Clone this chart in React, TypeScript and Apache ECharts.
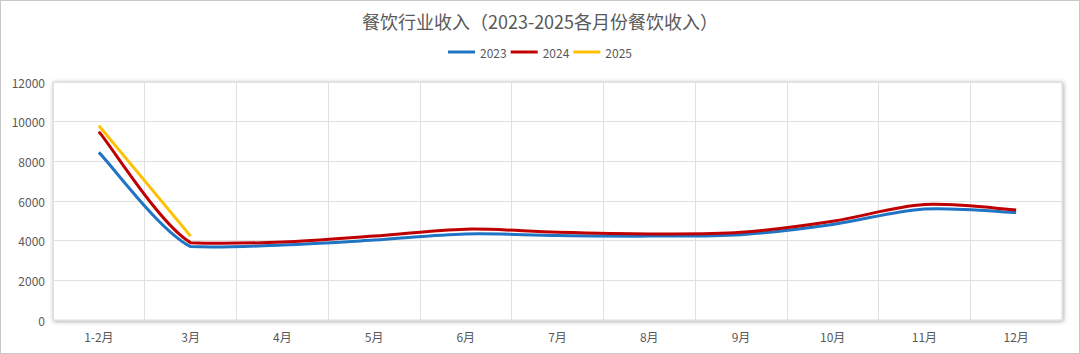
import React, { useEffect, useRef } from "react";
import * as echarts from "echarts";

const categories = ["1-2月", "3月", "4月", "5月", "6月", "7月", "8月", "9月", "10月", "11月", "12月"];
const s2023 = [8450, 3700, 3780, 4030, 4340, 4260, 4230, 4300, 4820, 5600, 5420];
const s2024 = [9500, 3900, 3930, 4230, 4580, 4420, 4340, 4420, 4980, 5820, 5550];
const s2025 = [9800, 4230];
const yTicks = { min: 0, max: 12000, interval: 2000 };

function clamp(v: number, a: number, b: number, tol: number) {
  const lo = Math.min(a, b) - tol;
  const hi = Math.max(a, b) + tol;
  return Math.max(lo, Math.min(hi, v));
}

function smoothPath(pts: number[][]): string {
  if (pts.length === 0) return "";
  let d = `M${pts[0][0]},${pts[0][1]}`;
  if (pts.length === 2) return d + `L${pts[1][0]},${pts[1][1]}`;
  const tol = 1.5;
  for (let i = 0; i < pts.length - 1; i++) {
    const p0 = pts[i - 1] || pts[i];
    const p1 = pts[i];
    const p2 = pts[i + 1];
    const p3 = pts[i + 2] || p2;
    const c1x = p1[0] + (p2[0] - p0[0]) / 6;
    const c1y = clamp(p1[1] + (p2[1] - p0[1]) / 6, p1[1], p2[1], tol);
    const c2x = p2[0] - (p3[0] - p1[0]) / 6;
    const c2y = clamp(p2[1] - (p3[1] - p1[1]) / 6, p1[1], p2[1], tol);
    d += `C${c1x},${c1y},${c2x},${c2y},${p2[0]},${p2[1]}`;
  }
  return d;
}

export default function App() {
  const ref = useRef<HTMLDivElement>(null);
  useEffect(() => {
    if (!ref.current) return;
    const chart = echarts.init(ref.current, undefined, { renderer: "svg" });
    const font = "'Microsoft YaHei', 'Noto Sans CJK SC', sans-serif";
    const mk = (name: string, values: number[], color: string) => ({
      name,
      type: "custom",
      data: values.map((v, i) => [i, v]),
      encode: { x: 0, y: 1 },
      itemStyle: { color },
      renderItem: (params: any, api: any) => {
        if (params.dataIndex !== 0) return null;
        const pts = values.map((v, i) => api.coord([i, v]));
        return {
          type: "path",
          shape: { pathData: smoothPath(pts) },
          style: { stroke: color, lineWidth: 3, fill: "none" },
          silent: true,
        };
      },
    });
    chart.setOption({
      animation: false,
      backgroundColor: "#ffffff",
      textStyle: { fontFamily: font },
      title: {
        text: "餐饮行业收入（2023-2025各月份餐饮收入）",
        left: "center",
        top: 6,
        textStyle: { fontSize: 18, fontWeight: "normal", color: "#595959", fontFamily: font },
      },
      legend: {
        top: 40,
        left: "center",
        itemWidth: 27,
        itemHeight: 3,
        itemGap: 4,
        icon: "rect",
        textStyle: { fontSize: 12, color: "#595959", fontFamily: font },
        data: [
          { name: "2023", itemStyle: { color: "#1f74c4" } },
          { name: "2024", itemStyle: { color: "#c00000" } },
          { name: "2025", itemStyle: { color: "#ffc000" } },
        ],
      },
      grid: {
        left: 52,
        right: 17,
        top: 81,
        bottom: 33,
        show: true,
        backgroundColor: "#ffffff",
        borderColor: "#d9d9d9",
        borderWidth: 1,
        shadowColor: "rgba(0,0,0,0.35)",
        shadowBlur: 4,
        shadowOffsetX: 1,
        shadowOffsetY: 1,
      },
      xAxis: {
        type: "category",
        data: categories,
        boundaryGap: true,
        axisLine: {
          show: true,
          lineStyle: { color: "#5a5a5a", width: 3, shadowColor: "rgba(0,0,0,0.4)", shadowBlur: 3, shadowOffsetY: 1 },
        },
        axisTick: { show: false },
        splitLine: { show: true, lineStyle: { color: "#e0e0e0", width: 1 } },
        axisLabel: { color: "#595959", fontSize: 12, margin: 10, fontFamily: font },
      },
      yAxis: {
        type: "value",
        min: yTicks.min,
        max: yTicks.max,
        interval: yTicks.interval,
        axisLine: { show: false },
        axisTick: { show: false },
        splitLine: { show: true, lineStyle: { color: "#e0e0e0", width: 1 } },
        axisLabel: { color: "#595959", fontSize: 12, margin: 8, fontFamily: font, formatter: (v: number) => String(v) },
      },
      series: [
        mk("2023", s2023, "#1f74c4"),
        mk("2024", s2024, "#c00000"),
        mk("2025", s2025, "#ffc000"),
      ],
    });
    return () => chart.dispose();
  }, []);
  return (
    <div
      style={{
        position: "fixed",
        left: 0,
        top: 0,
        width: 1080,
        height: 354,
        border: "1px solid #c8c8c8",
        boxSizing: "border-box",
        background: "#fff",
      }}
    >
      <div ref={ref} style={{ width: 1078, height: 352 }} />
    </div>
  );
}
